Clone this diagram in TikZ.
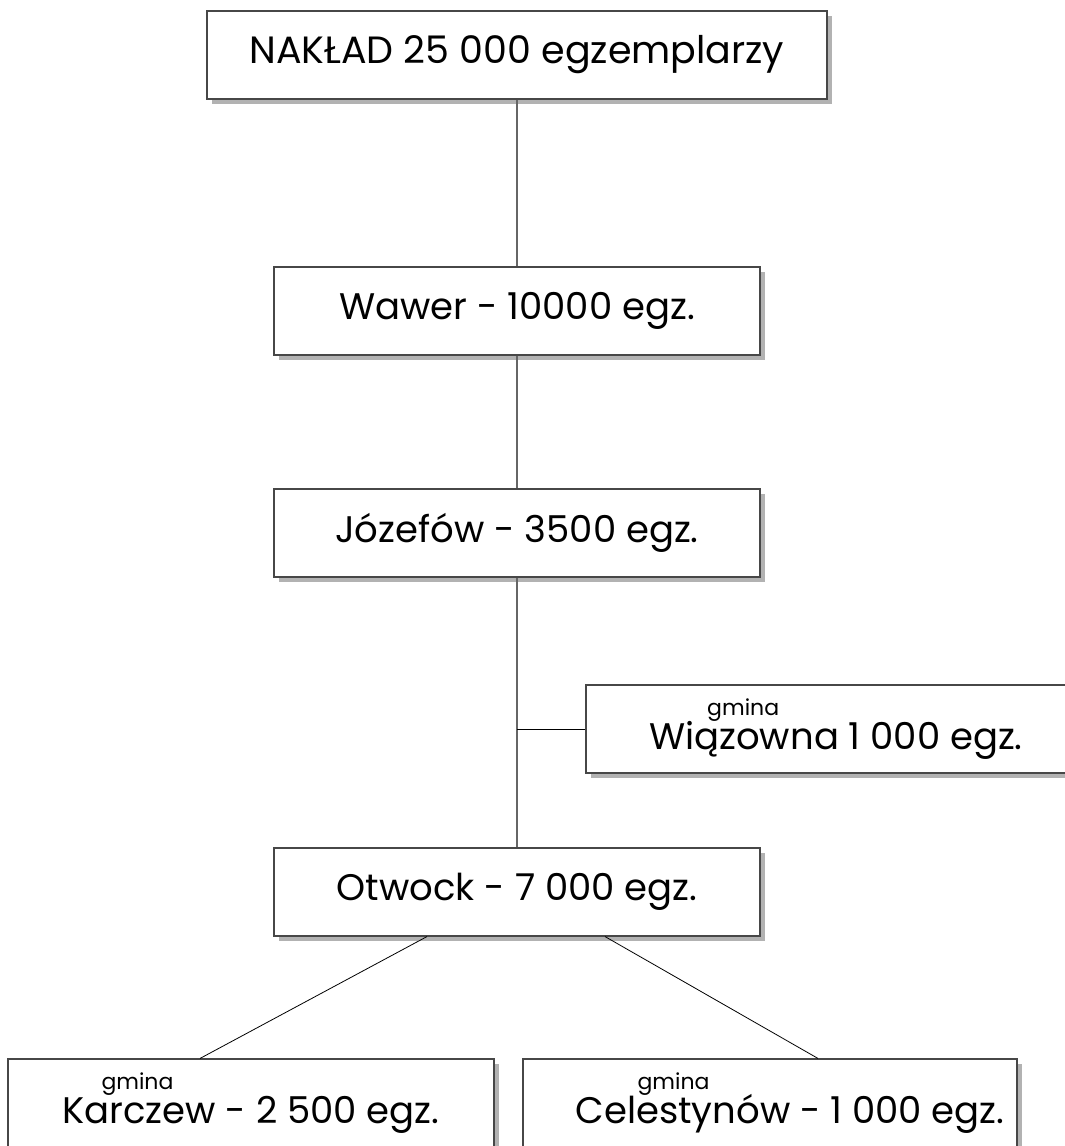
\documentclass[tikz,border=0pt]{standalone}
\usepackage{fontspec}
\setmainfont{Poppins}
\usetikzlibrary{shadows,calc}
\newcommand{\bigtxt}{\fontsize{38}{42}\selectfont}
\newcommand{\midtxt}{\fontsize{37}{40}\selectfont}
\newcommand{\smalltxt}{\fontsize{22}{24}\selectfont}
\begin{document}
\begin{tikzpicture}[x=1pt,y=-1pt,
  box/.style={draw=black!72, line width=1.1pt, fill=white, inner sep=0pt,
    minimum height=88pt, minimum width=486pt, font=\midtxt,
    drop shadow={shadow xshift=5pt, shadow yshift=-5pt, opacity=1, fill=black!30}},
  vline/.style={draw=black!60, line width=1.3pt},
  dline/.style={draw=black, line width=0.8pt}]
\useasboundingbox (0,0) rectangle (1065,1146);
\clip (0,0) rectangle (1065,1146);
\node[box, minimum width=620pt, font=\bigtxt] (top) at (517,55) {NAKŁAD 25 000 egzemplarzy};
\node[box] (wawer) at (517,311) {Wawer - 10000 egz.};
\node[box] (jozef) at (517,533) {Józefów - 3500 egz.};
\node[box, minimum width=500pt, align=left] (wiaz) at (836,729)
  {{\smalltxt\hspace*{58pt}gmina}\\[-6pt]Wiązowna 1 000 egz.};
\node[box] (otw) at (517,892) {Otwock - 7 000 egz.};
\node[box, align=left] (kar) at (251,1103)
  {{\smalltxt\hspace*{39pt}gmina}\\[-6pt]Karczew - 2 500 egz.};
\node[box, minimum width=494pt, align=left] (cel) at (770,1103)
  {{\smalltxt\hspace*{102pt}gmina}\\[-6pt]\hspace*{40pt}Celestynów - 1 000 egz.};
\draw[vline] (top.south) -- (wawer.north);
\draw[vline] (wawer.south) -- (jozef.north);
\draw[vline] (jozef.south) -- (otw.north);
\draw[dline] (jozef.south |- wiaz.west) -- (wiaz.west);
\draw[dline] ($(otw.south)+(-90,0)$) -- ($(kar.north)+(-51,0)$);
\draw[dline] ($(otw.south)+(88,0)$) -- ($(cel.north)+(48,0)$);
\end{tikzpicture}
\end{document}
